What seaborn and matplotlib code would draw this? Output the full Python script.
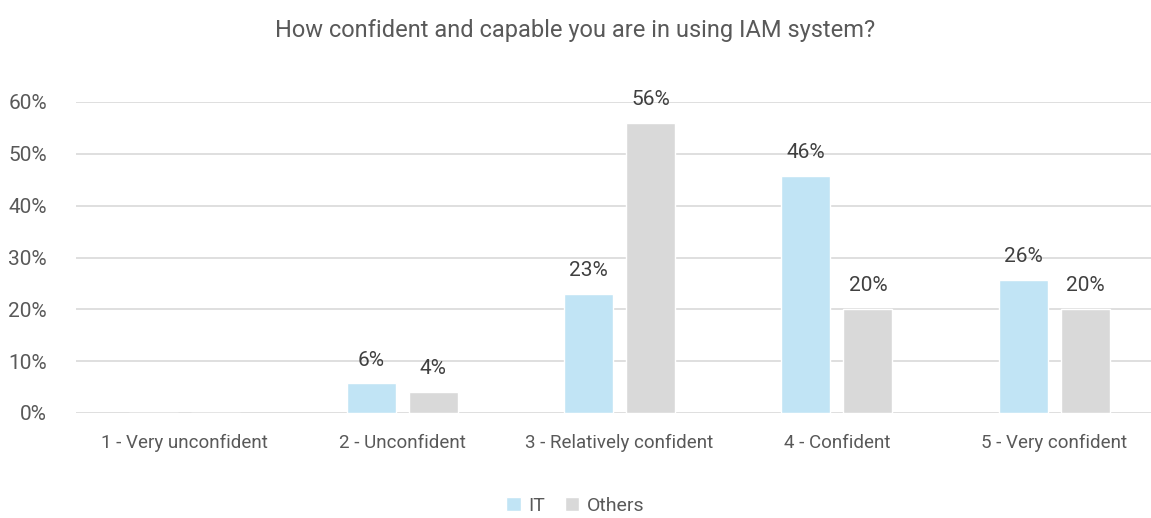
import matplotlib
matplotlib.use("Agg")
import matplotlib.pyplot as plt
import seaborn as sns
import pandas as pd

categories = ["1 - Very unconfident", "2 - Unconfident", "3 - Relatively confident",
              "4 - Confident", "5 - Very confident"]
it_values = [0.0, 5.7, 22.9, 45.7, 25.7]
others_values = [0.0, 4.0, 56.0, 20.0, 20.0]
groups = ["IT", "Others"]
y_ticks = [0, 10, 20, 30, 40, 50, 60]
title = "How confident and capable you are in using IAM system?"

df = pd.DataFrame({
    "Category": categories * 2,
    "Group": ["IT"] * len(categories) + ["Others"] * len(categories),
    "Value": it_values + others_values,
})

sns.set_theme(style="white")
plt.rcParams["font.family"] = ["Roboto", "DejaVu Sans"]

fig = plt.figure(figsize=(11.51, 5.18), dpi=100)
ax = fig.add_axes([76 / 1151, 105 / 518, 1087 / 1151, 311 / 518])

palette = {"IT": "#C1E4F5", "Others": "#D9D9D9"}
sns.barplot(data=df, x="Category", y="Value", hue="Group", order=categories,
            hue_order=groups, palette=palette, width=0.571, gap=0.21,
            saturation=1, ax=ax, legend=True)

ax.set_ylim(0, 60)
ax.set_yticks(y_ticks)
ax.set_yticklabels([f"{t}%" for t in y_ticks])
ax.set_xlim(-0.5, len(categories) - 0.5)
ax.yaxis.grid(True, color="#D9D9D9", linewidth=1.2)
ax.set_axisbelow(True)
for s in ax.spines.values():
    s.set_visible(False)
ax.set_xlabel("")
ax.set_ylabel("")
ax.tick_params(axis="both", length=0, colors="#595959")
ax.tick_params(axis="y", pad=21, labelsize=15)
ax.tick_params(axis="x", pad=25, labelsize=13.5)
for lbl in ax.get_xticklabels():
    lbl.set_verticalalignment("baseline")

for container in ax.containers:
    labels = [f"{v:.0f}%" if v > 0 else "" for v in container.datavalues]
    ax.bar_label(container, labels=labels, padding=10, color="#404040", fontsize=15)

fig.text(0.5, 1 - 31 / 518, title, ha="center", va="center", fontsize=17, color="#595959")

handles, labs = ax.get_legend_handles_labels()
ax.get_legend().remove()
fig.legend(handles, labs, loc="center", bbox_to_anchor=(0.5, 1 - 506 / 518), ncol=2,
           frameon=False, fontsize=14, handlelength=0.75, handleheight=0.75,
           handletextpad=0.4, columnspacing=1.0, labelcolor="#595959")

fig.savefig("out.png", dpi=100)
